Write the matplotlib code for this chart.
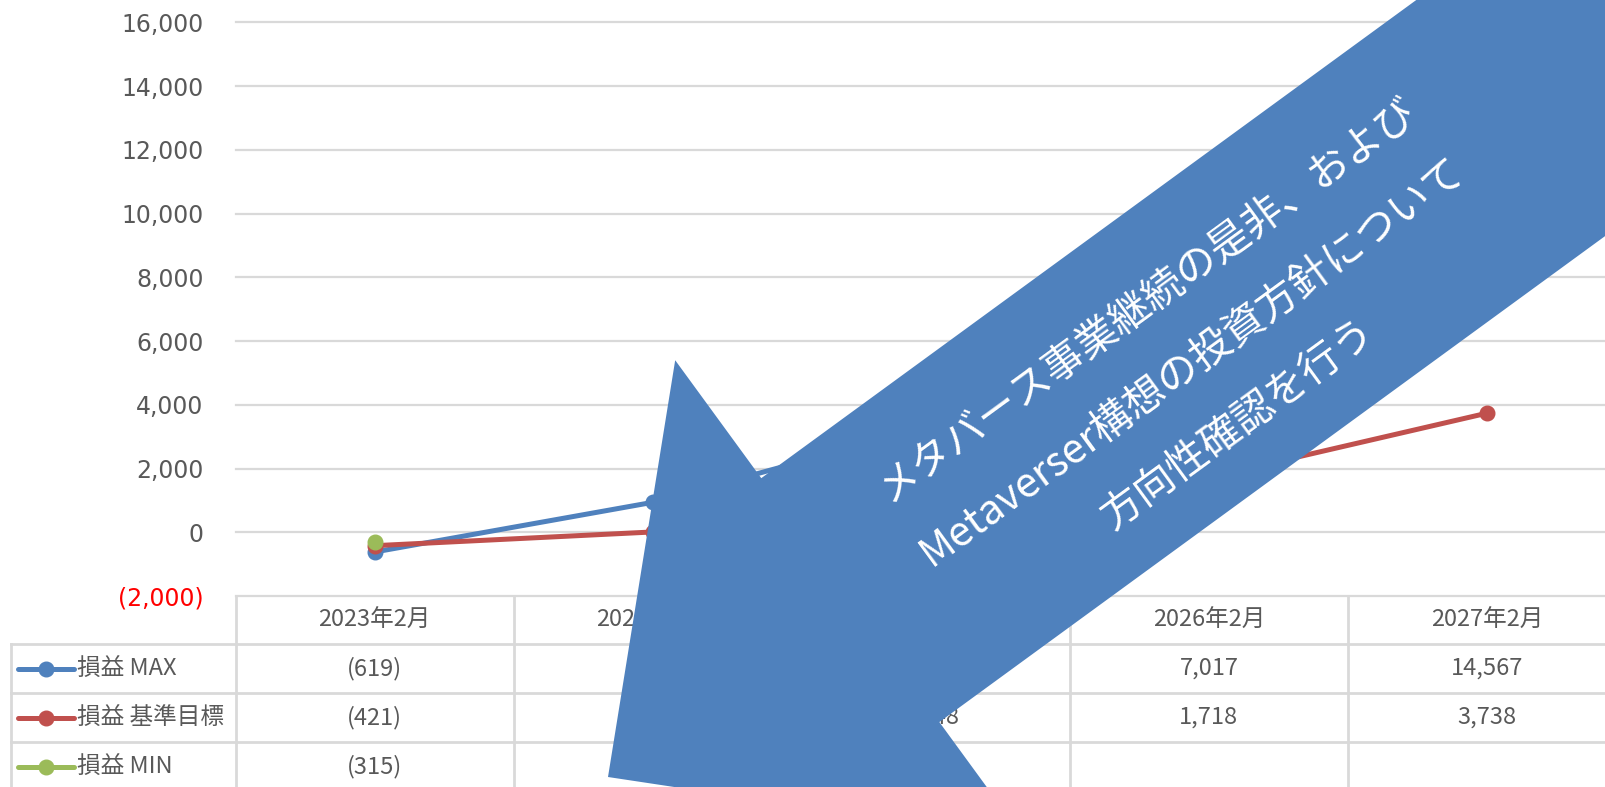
import numpy as np
import matplotlib
matplotlib.use('Agg')
import matplotlib.pyplot as plt
import matplotlib.transforms as mtransforms
from matplotlib.patches import Polygon
from matplotlib.lines import Line2D

plt.rcParams['font.family'] = ['Noto Sans CJK JP', 'DejaVu Sans']

# data
categories = ['2023年2月', '2024年2月', '2025年2月', '2026年2月', '2027年2月']
series_names = ['損益 MAX', '損益 基準目標', '損益 MIN']
profit_max = [-619, 940, 3330, 7017, 14567]
profit_base = [-421, 10, 1048, 1718, 3738]
profit_min = [-315, np.nan, np.nan, np.nan, np.nan]
series_colors = ['#4F81BD', '#C0504D', '#9BBB59']
yticks = list(range(-2000, 16001, 2000))
callout_lines = ['メタバース事業継続の是非、および',
                 'Metaverser構想の投資方針について',
                 '方向性確認を行う']

TXT = '#595959'
GRID = '#D9D9D9'


def fmt(v):
    if np.isnan(v):
        return ''
    v = int(round(v))
    return f'{v:,}' if v >= 0 else f'({-v:,})'


W, H = 1606, 787
fig = plt.figure(figsize=(W / 100, H / 100), dpi=100)
ax = fig.add_axes([235.6 / W, 1 - 596 / H, (1626 - 235.6) / W, (596 - 22.5) / H])

# pixel coords, y going down
px = mtransforms.Affine2D().scale(1 / W, -1 / H).translate(0, 1) + fig.transFigure
bt = mtransforms.blended_transform_factory(ax.transData, px)

x = np.arange(len(categories))
all_series = [profit_max, profit_base, profit_min]
for vals, c in zip(all_series, series_colors):
    ax.plot(x, vals, color=c, lw=3.6, marker='o', ms=10.5,
            solid_capstyle='round', zorder=3, clip_on=False)

ax.set_xlim(-0.5, 4.5)
ax.set_ylim(-2000, 16000)
ax.set_xticks([])
ax.set_yticks(yticks)
ax.set_yticklabels([fmt(v) for v in yticks])
ax.tick_params(axis='y', length=0, pad=23, labelsize=17, labelcolor=TXT)
plt.setp(ax.get_yticklabels(), fontfamily='DejaVu Sans')
ax.get_yticklabels()[0].set_color('red')
for s in ax.spines.values():
    s.set_visible(False)
ax.yaxis.grid(True, color=GRID, lw=1.6)
ax.set_axisbelow(True)
for gl in ax.get_ygridlines():
    gl.set_clip_on(False)

# data table under the plot
row_edges = [596, 644, 693, 742, 791]
for y in row_edges[1:4]:
    fig.add_artist(Line2D([11, 1700], [y, y], transform=px, color=GRID, lw=2))
fig.add_artist(Line2D([11, 11], [644, 800], transform=px, color=GRID, lw=2))
for xb in np.arange(-0.5, 5.0, 1.0):
    fig.add_artist(Line2D([xb, xb], [596, 800], transform=bt, color=GRID, lw=2))

for i, cat in enumerate(categories):
    fig.text(i, 620, cat, transform=bt, ha='center', va='center',
             fontsize=17, color=TXT)

for r, (name, vals, c) in enumerate(zip(series_names, all_series, series_colors)):
    yc = (row_edges[r + 1] + row_edges[r + 2]) / 2
    fig.add_artist(Line2D([18, 46, 74], [yc, yc, yc], transform=px, color=c,
                          lw=3.6, marker='o', ms=10.5, markevery=[1],
                          solid_capstyle='round'))
    fig.text(77, yc, name, transform=px, ha='left', va='center',
             fontsize=17, color=TXT)
    for i, v in enumerate(vals):
        fig.text(i, yc, fmt(v), transform=bt, ha='center', va='center',
                 fontsize=17, color=TXT)

# big arrow callout
theta = np.arctan(0.73)
u = np.array([np.cos(theta), -np.sin(theta)])
n = np.array([np.sin(theta), np.cos(theta)])
tip = np.array([608.0, 777.0])
head_len, head_half, shaft_half = 300, 297, 151
pts = [tip,
       tip + head_len * u - head_half * n,
       tip + head_len * u - shaft_half * n,
       tip + 2200 * u - shaft_half * n,
       tip + 2200 * u + shaft_half * n,
       tip + head_len * u + shaft_half * n,
       tip + head_len * u + head_half * n]
fig.add_artist(Polygon(pts, closed=True, transform=px, facecolor='#4F81BD',
                       edgecolor='none', zorder=5))

for off, line in zip([-67, 10, 87], callout_lines):
    cx, cy = tip + 717 * u + off * n
    fig.text(cx, cy, line, transform=px, rotation=np.degrees(theta),
             rotation_mode='anchor', ha='center', va='center',
             fontsize=29.5, color='white', zorder=6)

fig.savefig('out.png', dpi=100)
